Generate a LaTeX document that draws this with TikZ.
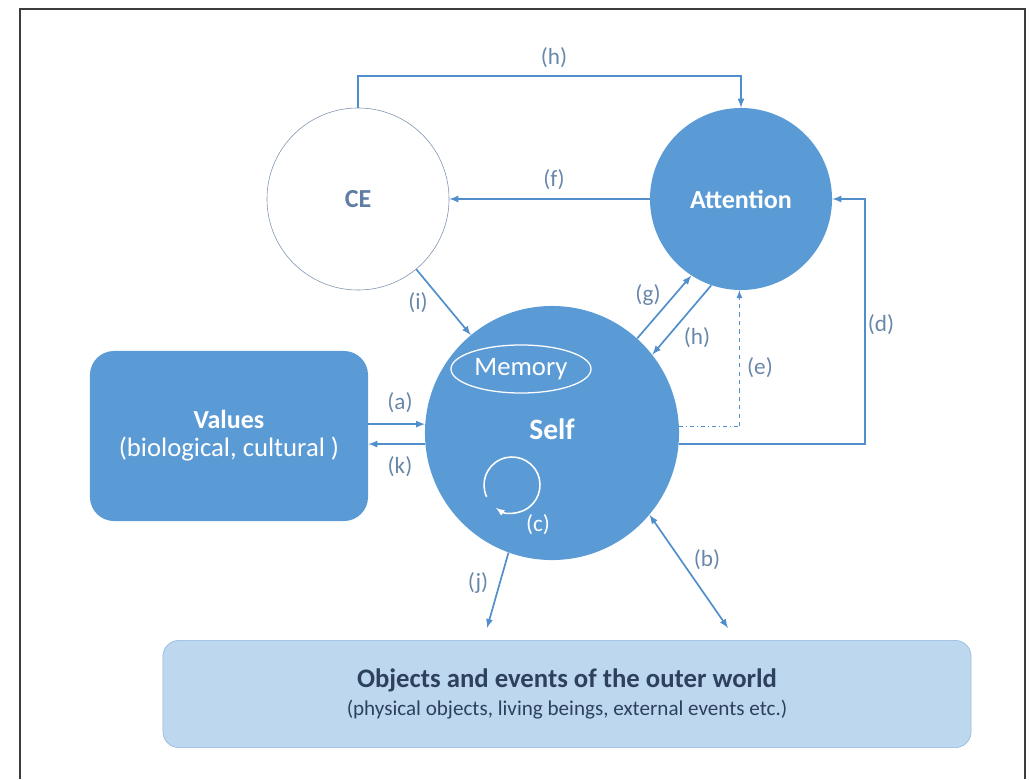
\documentclass[tikz,border=0pt]{standalone}
\usepackage{fontspec}
\setmainfont{Carlito}
\usetikzlibrary{shapes}

\definecolor{mainblue}{RGB}{91,155,213}
\definecolor{arrowblue}{RGB}{80,142,204}
\definecolor{labelgray}{RGB}{105,135,170}
\definecolor{celine}{RGB}{125,145,175}
\definecolor{cetext}{RGB}{95,125,165}
\definecolor{worldfill}{RGB}{189,215,238}
\definecolor{worldline}{RGB}{140,180,220}
\definecolor{worldtext}{RGB}{45,65,95}
\definecolor{framegray}{RGB}{60,60,60}

\begin{document}
\begin{tikzpicture}[x=0.025cm,y=0.025cm,
bluecirclenode/.style={circle, fill=mainblue, text=white, font=\fontsize{18.5}{22}\selectfont\bfseries, inner sep=0pt},
whitecirclenode/.style={circle, draw=celine, fill=white, text=cetext, font=\fontsize{18.5}{22}\selectfont\bfseries, inner sep=0pt, minimum size=45.5mm},
valuesnode/.style={rectangle, fill=mainblue, text=white, rounded corners=6mm, minimum width=69.5mm, minimum height=42.5mm, align=center, font=\fontsize{19}{22}\selectfont},
worldnode/.style={rectangle, draw=worldline, fill=worldfill, text=worldtext, rounded corners=4mm, minimum width=202mm, minimum height=26.8mm, align=center, font=\fontsize{15}{22}\selectfont},
memorynode/.style={ellipse, draw=white, line width=0.9pt, text=white, minimum width=35mm, minimum height=12mm, inner sep=0pt, font=\fontsize{19}{22}\selectfont},
tag/.style={text=labelgray, font=\fontsize{16.5}{19}\selectfont},
flow/.style={-latex, line width=1.2pt, arrowblue}
]
\useasboundingbox (0,0) rectangle (1029,779);
\draw[framegray, line width=1.3pt] (20,0) -- (20,770) -- (1025,770) -- (1025,0);

%Nodes
\node[whitecirclenode] at (358,580) (ce) {CE};
\node[bluecirclenode, minimum size=45.5mm] at (741,580) (att) {Attention};
\node[bluecirclenode, minimum size=63.5mm, font=\fontsize{21}{24}\selectfont\bfseries] at (552,346) (self) {\raisebox{6pt}{Self}};
\node[memorynode] at (521,410) (mem) {Memory};
\node[valuesnode] at (229,343) (values) {{\fontsize{18.5}{22}\selectfont\bfseries Values}\\[-2pt](biological, cultural )};
\node[worldnode] at (567,85) (world) {{\fontsize{19}{22}\selectfont\bfseries Objects and events of the outer world}\\[-2pt](physical objects, living beings, external events etc.)};

\coordinate (hbar) at (550,703);
\coordinate (dcorner) at (865,580);
\coordinate (loop) at (512,294);
\coordinate (jend) at (487,151);
\coordinate (bend) at (728,151);

\node[tag] at (554,721) (h-top) {(h)};
\node[tag] at (554,599) (f-lab) {(f)};
\node[tag] at (418,476) (i-lab) {(i)};
\node[tag] at (648,484) (g-lab) {(g)};
\node[tag] at (697,441) (h-low) {(h)};
\node[tag] at (760,411) (e-lab) {(e)};
\node[tag] at (881,454) (d-lab) {(d)};
\node[tag] at (400,376) (a-lab) {(a)};
\node[tag] at (400,312) (k-lab) {(k)};
\node[tag, text=white] at (538,254) (c-lab) {(c)};
\node[tag] at (478,196) (j-lab) {(j)};
\node[tag] at (707,219) (b-lab) {(b)};

%Lines
\draw[flow] (ce.north) |- (hbar) -| (att.north);
\draw[flow] (att.west) -- (ce.east);
\draw[flow] (ce) -- (self);
\draw[flow] (self.48) -- (att.-123);
\draw[flow] (att.-109) -- (self.38);
\draw[arrowblue, line width=0.8pt, dash dot] (self.3) -- (self.3 -| att.-91);
\draw[flow, line width=0.9pt, dashed] (self.3 -| att.-91) -- (att.-91);
\draw[flow] (self.-5) -| (dcorner) -- (att.east);
\draw[flow] (values.east |- self.176) -- (self.176);
\draw[flow] (self.185) -- (values.east |- self.185);
\draw[flow] (self.-110) -- (jend);
\draw[flow, latex-latex] (self.-40) -- (bend);
\draw[white, line width=1.1pt, -latex] (loop) ++(205:28) arc[start angle=205, end angle=-125, radius=28];

\end{tikzpicture}
\end{document}
